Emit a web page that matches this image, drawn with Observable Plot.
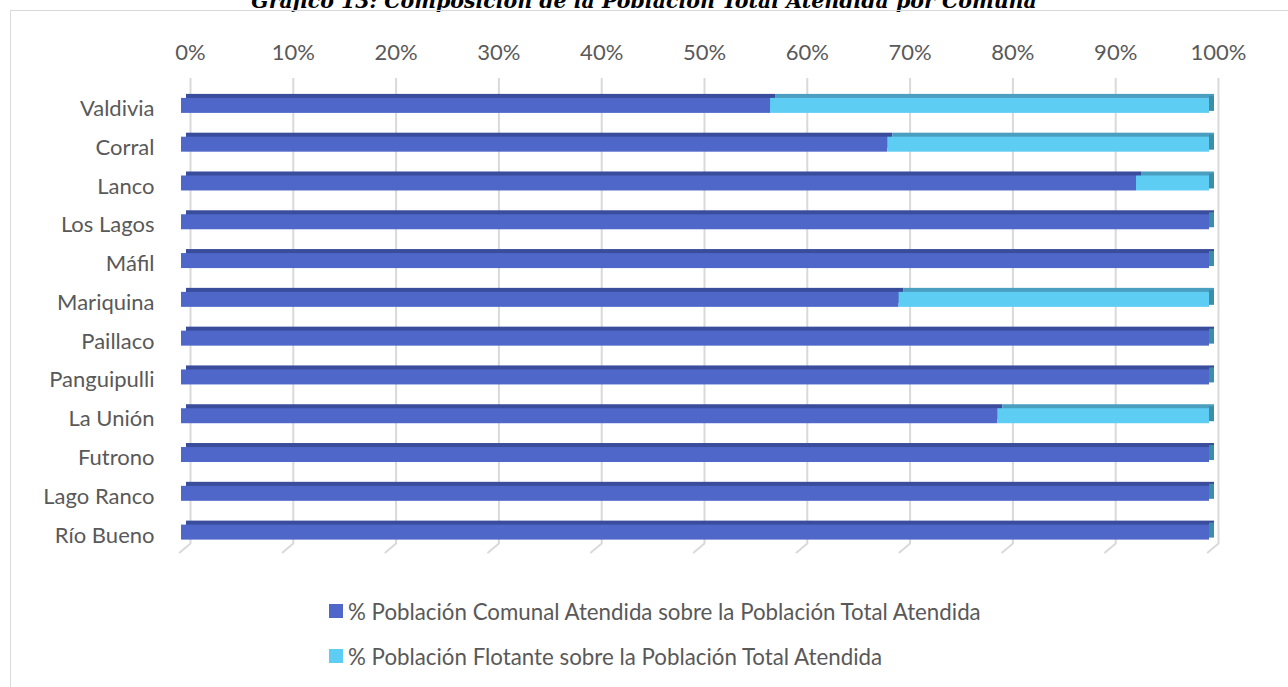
<!DOCTYPE html>
<html>
<head>
<meta charset="utf-8">
<script src="https://cdn.jsdelivr.net/npm/d3@7"></script>
<script src="https://cdn.jsdelivr.net/npm/@observablehq/plot@0.6"></script>
<style>
  html, body { margin: 0; padding: 0; background: #fff; overflow: hidden; }
  #page { position: relative; width: 1288px; height: 687px; overflow: hidden; background: #fff; }
  #frame { position: absolute; left: 10px; top: 10px; width: 1300px; height: 700px; border-left: 1px solid #d9d9d9; border-top: 1px solid #d9d9d9; box-sizing: border-box; pointer-events: none; }
  #title { position: absolute; left: 0; width: 1288px; top: -9px; text-align: center; font-family: "DejaVu Serif", serif; font-weight: bold; font-style: italic; font-size: 20.5px; line-height: 20px; color: #000; white-space: nowrap; }
  #chart { position: absolute; left: 0; top: 0; }
  #legend { position: absolute; left: 329px; top: 596px; font-family: Lato, sans-serif; font-size: 22.3px; color: #595959; }
  .item { display: flex; align-items: center; height: 30px; margin-bottom: 15px; white-space: nowrap; }
  .sw { width: 14px; height: 14px; margin-right: 5px; flex: none; }
</style>
</head>
<body>
<div id="page">
  <div id="title"></div>
  <div id="chart"></div>
  <div id="frame"></div>
  <div id="legend"></div>
</div>
<script>
const title = "Gráfico 13: Composición de la Población Total Atendida por Comuna";
const comunas = ["Valdivia", "Corral", "Lanco", "Los Lagos", "Máfil", "Mariquina", "Paillaco", "Panguipulli", "La Unión", "Futrono", "Lago Ranco", "Río Bueno"];
const comunal = [57.3, 68.7, 92.9, 100, 100, 69.8, 100, 100, 79.4, 100, 100, 100];
const flotante = [42.7, 31.3, 7.1, 0, 0, 30.2, 0, 0, 20.6, 0, 0, 0];
const series = ["% Población Comunal Atendida sobre la Población Total Atendida", "% Población Flotante sobre la Población Total Atendida"];
const ticks = [0, 10, 20, 30, 40, 50, 60, 70, 80, 90, 100];
const tickLabels = ["0%", "10%", "20%", "30%", "40%", "50%", "60%", "70%", "80%", "90%", "100%"];

const frontColors = ["#4e67c8", "#5dcdf3"];
const topColors = ["#3a4c9c", "#4a9fc0"];
const sideColor = "#3a8ea8";
const gridColor = "#d9d9d9";

const data = [];
comunas.forEach((c, i) => {
  data.push({comuna: c, serie: 0, value: comunal[i]});
  data.push({comuna: c, serie: 1, value: flotante[i]});
});

document.getElementById("title").textContent = title;

const inset = 11.9;
const floorShape = {draw(context, l) { context.moveTo(0, 0); context.lineTo(0, -l); }};

const chart = Plot.plot({
  width: 1288,
  height: 570,
  marginLeft: 181,
  marginRight: 79,
  marginTop: 78,
  marginBottom: 27,
  style: {fontFamily: "Lato, sans-serif", fontSize: "22px", color: "#595959", background: "transparent"},
  x: {domain: [0, 100], axis: null},
  y: {domain: comunas, range: [86, 551.5], padding: 0, round: false, axis: null},
  color: {type: "identity"},
  marks: [
    Plot.ruleX(ticks, {x: d => d, dx: 9, stroke: gridColor, strokeWidth: 2}),
    Plot.vector(ticks, {x: d => d, frameAnchor: "bottom", dx: 9, anchor: "start", length: 14, rotate: 230, shape: floorShape, stroke: gridColor, strokeWidth: 2}),
    Plot.text(ticks, {x: d => d, frameAnchor: "top", dx: 9, dy: -34, text: (d, i) => tickLabels[i]}),
    Plot.text(comunas, {y: d => d, frameAnchor: "left", dx: -27, dy: 3, textAnchor: "end", text: d => d}),
    Plot.barX(data, Plot.stackX({x: "value", y: "comuna", fill: d => topColors[d.serie], insetTop: inset, insetBottom: inset, dx: 5, dy: -4})),
    Plot.barX(comunas, {x1: 100, x2: 100, y: d => d, insetLeft: 0, insetRight: -5, insetTop: inset, insetBottom: inset, dx: 0, dy: -2, fill: sideColor}),
    Plot.barX(data, Plot.stackX({x: "value", y: "comuna", fill: d => frontColors[d.serie], insetTop: inset, insetBottom: inset}))
  ]
});
document.getElementById("chart").appendChild(chart);

const legend = document.getElementById("legend");
series.forEach((s, i) => {
  const item = document.createElement("div");
  item.className = "item";
  const sw = document.createElement("span");
  sw.className = "sw";
  sw.style.background = frontColors[i];
  const tx = document.createElement("span");
  tx.textContent = s;
  item.appendChild(sw);
  item.appendChild(tx);
  legend.appendChild(item);
});
</script>
</body>
</html>
